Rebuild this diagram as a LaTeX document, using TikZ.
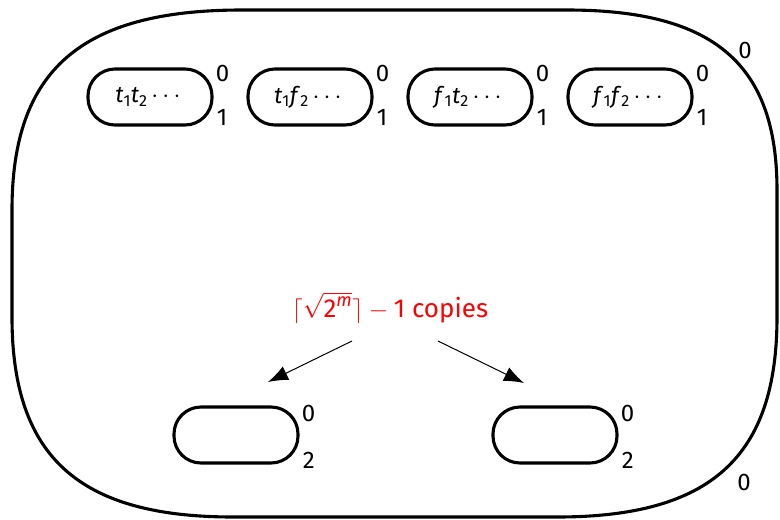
\documentclass[tikz,border=0pt]{standalone}
\usepackage{amsmath}
\usepackage{fontspec}
\setmainfont{Fira Sans}
\usetikzlibrary{arrows.meta}
\newcommand{\vi}[1]{\textit{#1}}
\tikzset{
  outer/.style={draw, line width=3.1pt},
  clause/.style={draw, line width=3.1pt, rounded corners=27pt, minimum width=124pt, minimum height=56pt, inner sep=0pt, font=\fontsize{23}{27}\selectfont},
  lbl/.style={font=\fontsize{24}{28}\selectfont, inner sep=0pt},
  copyarrow/.style={-{Latex[length=20pt,width=15pt]}, line width=1pt},
}
\begin{document}
\begin{tikzpicture}[x=1pt,y=-1pt]
\useasboundingbox (0,0) rectangle (780,520);
% enclosing outline: a squircle-like closed curve
\draw[outer] (12,210) .. controls (12,70) and (81,10) .. (242,10)
  -- (567,10) .. controls (714,10) and (777,64) .. (777,190)
  -- (777,317) .. controls (777,457) and (711,517) .. (557,517)
  -- (233,517) .. controls (79,517) and (12,457) .. (12,317)
  -- cycle;
\node[lbl] (o0) at (745,50) {0};
\node[lbl] (o1) at (744,482) {0};
% top row of clause gadgets
\foreach \cx/\txt [count=\i] in {150/{\vi{t}\textsubscript{1}\vi{t}\textsubscript{2}\,$\cdots$},
                                  310/{\vi{t}\textsubscript{1}\vi{f}\textsubscript{2}\,$\cdots$},
                                  470/{\vi{f}\textsubscript{1}\vi{t}\textsubscript{2}\,$\cdots$},
                                  630/{\vi{f}\textsubscript{1}\vi{f}\textsubscript{2}\,$\cdots$}} {
  \node[clause] (c\i) at (\cx,97) {\txt};
  \node[lbl, anchor=west] (c\i a) at ([xshift=2pt,yshift=24pt]c\i.east) {0};
  \node[lbl, anchor=west] (c\i b) at ([xshift=3pt,yshift=-20pt]c\i.east) {1};
}
% bottom pair
\node[clause] (d1) at (236,435) {};
\node[clause] (d2) at (555,435) {};
\foreach \n in {d1,d2} {
  \node[lbl, anchor=west] (\n a) at ([xshift=2pt,yshift=22pt]\n.east) {0};
  \node[lbl, anchor=west] (\n b) at ([xshift=3pt,yshift=-25pt]\n.east) {2};
}
% label and arrows
\node[lbl, text=red, font=\fontsize{26}{30}\selectfont] (cp) at (390,308) {$\lceil\sqrt{\text{2}^{\text{\vi{m}}}}\rceil - \text{1}$ copies};
\coordinate (s1) at (352,341);
\coordinate (s2) at (438,341);
\coordinate (e1) at (268,382);
\coordinate (e2) at (524,383);
\draw[copyarrow] (s1) -- (e1);
\draw[copyarrow] (s2) -- (e2);
\end{tikzpicture}
\end{document}
